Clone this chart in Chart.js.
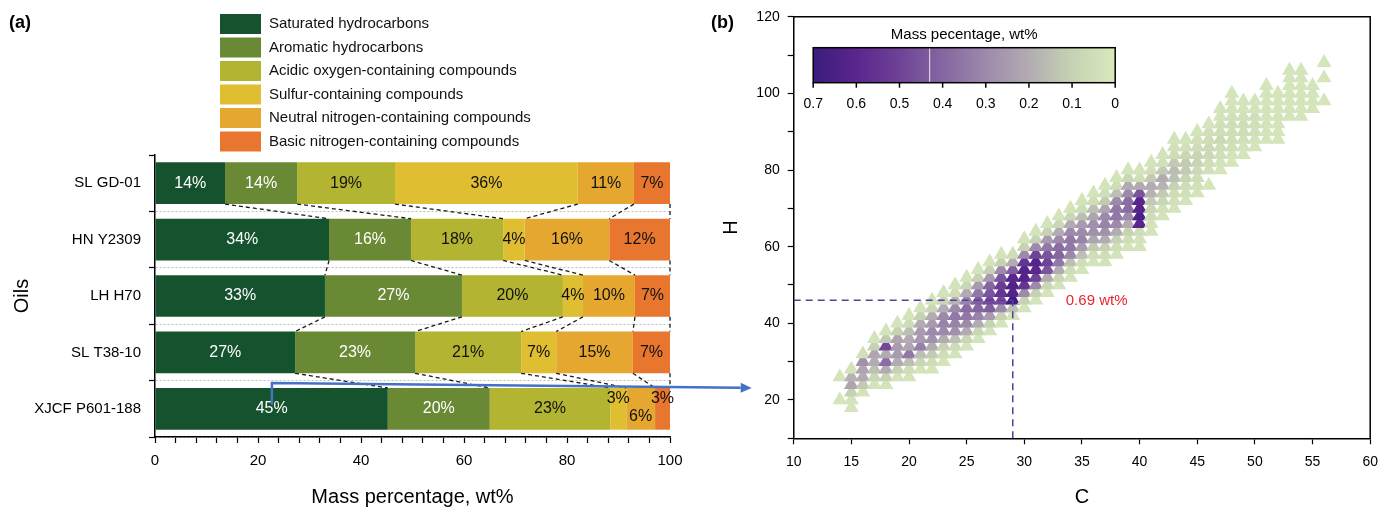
<!DOCTYPE html>
<html><head><meta charset="utf-8">
<script src="https://cdn.jsdelivr.net/npm/chart.js@4.4.1/dist/chart.umd.min.js"></script>
<style>
html,body{margin:0;padding:0;background:#fff;width:1387px;height:509px;overflow:hidden;position:relative;font-family:'Liberation Sans',Arial,sans-serif;}
#ca{position:absolute;left:0;top:0;}
#cb{position:absolute;left:700px;top:0;}
#ov{position:absolute;left:0;top:0;pointer-events:none;}
.pl{position:absolute;font-weight:bold;font-size:18px;color:#000;}
</style></head><body>
<canvas id="ca" width="700" height="509"></canvas>
<canvas id="cb" width="687" height="509"></canvas>
<canvas id="ov" width="1387" height="509"></canvas>
<div class="pl" style="left:9px;top:12px">(a)</div>
<div class="pl" style="left:711px;top:12px">(b)</div>
<script>
// ---------------- Panel (a) data ----------------
const oils = ['SL GD-01','HN Y2309','LH H70','SL T38-10','XJCF P601-188'];
const groupNames = ['Saturated hydrocarbons','Aromatic hydrocarbons','Acidic oxygen-containing compounds','Sulfur-containing compounds','Neutral nitrogen-containing compounds','Basic nitrogen-containing compounds'];
const saturated       = [13.6, 33.8, 33.0, 27.2, 45.2];
const aromatic        = [14.0, 15.9, 26.6, 23.3, 19.8];
const acidicOxygen    = [19.0, 17.9, 19.6, 20.6, 23.4];
const sulfurComp      = [35.5,  4.2,  3.9,  6.8,  3.1];
const neutralNitrogen = [10.9, 16.4, 10.1, 14.9,  5.6];
const basicNitrogen   = [ 7.0, 11.8,  6.8,  7.2,  2.9];
const xLabelTicksA = [0,20,40,60,80,100];

// ---------------- Panel (b) data ----------------
const carbonNumbers = [14,15,16,17,18,19,20,21,22,23,24,25,26,27,28,29,30,31,32,33,34,35,36,37,38,39,40,41,42,43,44,45,46,47,48,49,50,51,52,53,54,55,56];
const hydrogenStart = [20,18,22,24,24,26,26,28,28,30,32,34,36,38,40,42,44,46,48,50,52,54,56,56,58,60,60,64,68,70,72,74,76,80,82,84,86,88,88,94,94,96,98];
// mass percentage (wt%) for H = start, start+2, ... (null = not detected)
const massPercent = [
 [0.02,null,null,0.03],
 [0.02,0.03,0.10,0.22,0.18,0.03],
 [0.03,0.12,0.20,0.22,0.28,0.04],
 [0.03,0.08,0.15,0.20,0.22,0.10,0.03],
 [0.03,0.10,0.20,0.38,0.20,0.48,0.12,0.03],
 [0.03,0.10,0.20,0.25,0.25,0.22,0.10,0.03],
 [0.03,0.05,0.15,0.35,0.22,0.20,0.15,0.06,0.03],
 [0.03,0.08,0.15,0.33,0.25,0.25,0.20,0.10,0.03],
 [0.03,0.05,0.12,0.20,0.28,0.30,0.25,0.20,0.08,0.03],
 [0.03,0.05,0.10,0.20,0.30,0.32,0.30,0.20,0.08,0.03],
 [0.03,0.06,0.15,0.28,0.32,0.35,0.30,0.18,0.06,0.03],
 [0.03,0.08,0.20,0.30,0.35,0.38,0.32,0.20,0.08,0.03],
 [0.03,0.08,0.20,0.32,0.40,0.42,0.35,0.25,0.10,0.03],
 [0.03,0.10,0.25,0.42,0.48,0.45,0.40,0.25,0.10,0.03],
 [0.03,0.10,0.30,0.48,0.55,0.52,0.45,0.30,0.10,0.03],
 [0.03,0.15,0.69,0.62,0.63,0.60,0.42,0.20,0.05],
 [0.03,0.10,0.30,0.55,0.62,0.62,0.55,0.30,0.10,0.03],
 [0.03,0.10,0.30,0.50,0.60,0.62,0.50,0.30,0.10,0.03],
 [0.03,0.08,0.20,0.45,0.50,0.45,0.35,0.25,0.10,0.03],
 [0.03,0.08,0.20,0.35,0.40,0.38,0.30,0.20,0.08,0.03],
 [0.03,0.05,0.15,0.30,0.35,0.35,0.30,0.20,0.08,0.03],
 [0.03,0.05,0.15,0.25,0.32,0.30,0.25,0.15,0.06,0.03],
 [0.03,0.05,0.12,0.22,0.28,0.28,0.22,0.15,0.06,0.03],
 [0.03,0.05,0.10,0.20,0.28,0.32,0.30,0.22,0.12,0.05,0.03],
 [0.03,0.05,0.10,0.20,0.30,0.35,0.35,0.30,0.15,0.06,0.03],
 [0.03,0.05,0.10,0.20,0.30,0.38,0.38,0.30,0.20,0.08,0.03],
 [0.03,0.03,0.05,0.60,0.65,0.62,0.60,0.45,0.20,0.05,0.03],
 [0.03,0.03,0.05,0.08,0.12,0.18,0.20,0.12,0.04,0.03],
 [0.03,0.04,0.08,0.12,0.18,0.20,0.12,0.04,0.03],
 [0.03,0.04,0.06,0.10,0.15,0.16,0.12,0.06,0.04,0.03],
 [0.03,0.04,0.06,0.09,0.12,0.12,0.08,0.04,0.03],
 [0.03,0.04,0.05,0.07,0.09,0.09,0.06,0.04,0.03],
 [0.02,null,0.04,0.05,0.07,0.07,0.05,0.04,0.02],
 [0.02,0.03,0.04,0.05,0.07,0.05,0.04,0.03,0.02],
 [0.02,0.03,0.04,0.05,0.05,0.05,0.04,0.03,0.02,0.02],
 [0.02,0.03,0.04,0.05,0.05,0.04,0.03,0.02],
 [0.02,0.03,0.04,0.04,0.04,0.03,0.02],
 [0.02,0.02,0.03,0.03,0.03,0.02,0.02,0.02],
 [0.02,0.02,0.02,0.03,0.02,0.02,0.02],
 [0.02,0.02,0.02,0.02,0.02,0.02,0.02],
 [0.02,0.02,0.02,0.02,0.02,0.02,0.02],
 [0.02,0.02,0.02,0.02],
 [0.02,null,null,0.02,null,0.02]
];
const colorbarTicks = [0.7,0.6,0.5,0.4,0.3,0.2,0.1,0];
const colorbarMark = 0.43;
const arrowStartValue = 22.7;

// ---------------- styles ----------------
Chart.defaults.font.family = "'Liberation Sans', Arial, Helvetica, sans-serif";
Chart.defaults.color = '#000';
const groupColors = ['#15532e','#6a8935','#b2b432','#e0be32','#e6a731','#e8762e'];
const labelColors = ['#fff','#fff','#111','#111','#111','#111'];
const cmStops = [0,0.1,0.2,0.3,0.4,0.5,0.6,0.7];
const cmColors = [[217,234,189],[198,210,179],[178,172,178],[157,138,171],[133,102,161],[110,66,150],[90,38,142],[58,28,125]];
function cmap(v){
  v = Math.max(0, Math.min(0.7, v));
  for (let i=0;i<cmStops.length-1;i++){
    if (v<=cmStops[i+1]){
      const t=(v-cmStops[i])/(cmStops[i+1]-cmStops[i]);
      const a=cmColors[i], b=cmColors[i+1];
      return 'rgb('+a.map((c,k)=>Math.round(c+(b[k]-c)*t)).join(',')+')';
    }
  }
  return 'rgb('+cmColors[cmColors.length-1].join(',')+')';
}

// ---------------- Panel (a) chart ----------------
const groupData = [saturated, aromatic, acidicOxygen, sulfurComp, neutralNitrogen, basicNitrogen];
const labelShift = {'3-4':-10,'4-4':8,'5-4':-10};

const panelAPlugin = {
  id:'panelA',
  afterDatasetsDraw(chart){
    const ctx = chart.ctx;
    const metas = chart.data.datasets.map((d,i)=>chart.getDatasetMeta(i));
    ctx.save();
    ctx.strokeStyle='#1a1a1a'; ctx.lineWidth=1.3; ctx.setLineDash([4,3]);
    for (let b=0;b<oils.length-1;b++){
      for (let k=0;k<metas.length;k++){
        const e1=metas[k].data[b], e2=metas[k].data[b+1];
        ctx.beginPath();
        ctx.moveTo(e1.x, e1.y+e1.height/2);
        ctx.lineTo(e2.x, e2.y-e2.height/2);
        ctx.stroke();
      }
    }
    ctx.restore();
    ctx.save();
    ctx.font = "16px 'Liberation Sans', Arial, sans-serif";
    ctx.textAlign='center'; ctx.textBaseline='middle';
    metas.forEach((m,k)=>{
      m.data.forEach((e,b)=>{
        const v = chart.data.datasets[k].data[b];
        const dy = labelShift[k+'-'+b] || 0;
        ctx.fillStyle = labelColors[k];
        ctx.fillText(Math.round(v)+'%', (e.x+e.base)/2, e.y+dy);
      });
    });
    ctx.restore();
  },
  afterDraw(chart){
    const ctx = chart.ctx;
    ctx.save();
    ctx.font = "15px 'Liberation Sans', Arial, sans-serif";
    ctx.textBaseline='middle'; ctx.textAlign='left';
    chart.data.datasets.forEach((d,i)=>{
      const top = 14 + i*23.5;
      ctx.fillStyle = d.backgroundColor;
      ctx.fillRect(220, top, 41, 20);
      ctx.fillStyle = '#111';
      ctx.fillText(d.label, 269, top+10);
    });
    ctx.restore();
  }
};

const chartA = new Chart(document.getElementById('ca'), {
  type:'bar',
  data:{ labels: oils, datasets: groupNames.map((n,i)=>({label:n, data:groupData[i], backgroundColor:groupColors[i], borderWidth:0, categoryPercentage:0.74, barPercentage:1})) },
  options:{
    responsive:false, animation:false, indexAxis:'y',
    layout:{padding:{left:0,right:30,top:155,bottom:0}},
    plugins:{legend:{display:false}, tooltip:{enabled:false}},
    scales:{
      x:{stacked:true, min:0, max:100,
         ticks:{stepSize:4, autoSkip:false, maxRotation:0, padding:9, font:{size:15}, color:'#000',
                callback:(v)=> xLabelTicksA.includes(Math.round(v)) && Math.abs(v-Math.round(v))<1e-6 ? String(Math.round(v)) : ''},
         grid:{drawOnChartArea:false, tickLength:6, tickColor:'#000', tickWidth:1.2},
         border:{color:'#000', width:1.5},
         title:{display:true, text:'Mass percentage, wt%', font:{size:20}, color:'#000', padding:{top:0,bottom:0}},
         afterFit(s){ s.height = 72; }},
      y:{stacked:true,
         grid:{offset:true, drawOnChartArea:true, color:(c)=> c.index===0 ? 'rgba(0,0,0,0)' : '#bdbdbd', lineWidth:1, tickColor:'#000', tickLength:6, tickWidth:1.2},
         border:{color:'#000', width:1.5, dash:[2,2]},
         ticks:{font:{size:15}, color:'#000', padding:8},
         title:{display:true, text:'Oils', font:{size:20}, color:'#000', padding:{top:10}},
         afterFit(s){ s.width = 155; }}
    }
  },
  plugins:[panelAPlugin]
});

// ---------------- Panel (b) chart ----------------
const points = [], pointColors = [];
carbonNumbers.forEach((c,i)=>{
  massPercent[i].forEach((v,j)=>{
    if (v===null) return;
    points.push({x:c, y:hydrogenStart[i]+2*j, v:v});
    pointColors.push(cmap(v));
  });
});
const peak = points.reduce((a,p)=> p.v>a.v ? p : a, points[0]);
const xMinB = 10, xMaxB = 60, yMinB = 10, yMaxB = 120;

const panelBPlugin = {
  id:'panelB',
  afterDraw(chart){
    const ctx = chart.ctx, ca = chart.chartArea;
    ctx.save();
    ctx.strokeStyle='#000'; ctx.lineWidth=1.5;
    ctx.beginPath(); ctx.moveTo(ca.left, ca.top); ctx.lineTo(ca.right, ca.top); ctx.lineTo(ca.right, ca.bottom); ctx.stroke();
    // colorbar
    const cb = {left: ca.left+19.5, top: ca.top+31, w:302, h:35};
    const vmax = colorbarTicks[0];
    const g = ctx.createLinearGradient(cb.left,0,cb.left+cb.w,0);
    cmStops.forEach(s=> g.addColorStop((vmax-s)/vmax, cmap(s)));
    ctx.fillStyle = g; ctx.fillRect(cb.left, cb.top, cb.w, cb.h);
    const mx = cb.left + (vmax-colorbarMark)/vmax*cb.w;
    ctx.strokeStyle='rgba(255,255,255,0.85)'; ctx.lineWidth=1;
    ctx.beginPath(); ctx.moveTo(mx, cb.top); ctx.lineTo(mx, cb.top+cb.h); ctx.stroke();
    ctx.strokeStyle='#000'; ctx.lineWidth=1.5; ctx.strokeRect(cb.left, cb.top, cb.w, cb.h);
    ctx.fillStyle='#000';
    ctx.font = "14px 'Liberation Sans', Arial, sans-serif";
    ctx.textAlign='center'; ctx.textBaseline='middle';
    colorbarTicks.forEach(t=>{
      const x = cb.left + (vmax-t)/vmax*cb.w;
      ctx.beginPath(); ctx.moveTo(x, cb.top+cb.h); ctx.lineTo(x, cb.top+cb.h+5); ctx.stroke();
      ctx.fillText(String(t), x, cb.top+cb.h+21);
    });
    ctx.font = "15px 'Liberation Sans', Arial, sans-serif";
    ctx.fillText('Mass pecentage, wt%', cb.left+cb.w/2, cb.top-13);
    // peak label
    const px = chart.scales.x.getPixelForValue(peak.x), py = chart.scales.y.getPixelForValue(peak.y);
    ctx.fillStyle='#e8262b'; ctx.textAlign='left';
    ctx.fillText(peak.v.toFixed(2)+' wt%', px+53, py+1);
    ctx.restore();
  }
};

const chartB = new Chart(document.getElementById('cb'), {
  type:'scatter',
  data:{ datasets:[
    {data:[{x:xMinB,y:peak.y},{x:peak.x,y:peak.y}], showLine:true, borderColor:'#5b3ea0', borderWidth:1.5, borderDash:[7,5], pointRadius:0, fill:false},
    {data:[{x:peak.x,y:yMinB},{x:peak.x,y:peak.y}], showLine:true, borderColor:'#5b3ea0', borderWidth:1.5, borderDash:[7,5], pointRadius:0, fill:false},
    {data:points, pointStyle:'triangle', pointRadius:8.6, pointHoverRadius:8.6, backgroundColor:pointColors, borderWidth:0, borderColor:'rgba(0,0,0,0)'}
  ]},
  options:{
    responsive:false, animation:false,
    layout:{padding:{left:0,right:10,top:16.7,bottom:0}},
    plugins:{legend:{display:false}, tooltip:{enabled:false}},
    scales:{
      x:{type:'linear', min:xMinB, max:xMaxB,
         ticks:{stepSize:5, font:{size:14}, padding:9, color:'#000', maxRotation:0},
         grid:{drawOnChartArea:false, tickLength:6, tickColor:'#000', tickWidth:1.2},
         border:{color:'#000', width:1.5},
         title:{display:true, text:'C', font:{size:20}, color:'#000', padding:{top:0,bottom:0}},
         afterFit(s){ s.height = 70.7; }},
      y:{type:'linear', min:yMinB, max:yMaxB,
         ticks:{stepSize:10, font:{size:14}, padding:8, color:'#000', callback:(v)=> (v%20===0) ? String(v) : ''},
         grid:{drawOnChartArea:false, tickLength:6, tickColor:'#000', tickWidth:1.2},
         border:{color:'#000', width:1.5},
         title:{display:true, text:'H', font:{size:20}, color:'#000', padding:{top:19}},
         afterFit(s){ s.width = 93.7; }}
    }
  },
  plugins:[panelBPlugin]
});

// ---------------- connecting arrow ----------------
(function(){
  const ov = document.getElementById('ov').getContext('2d');
  const bar = chartA.getDatasetMeta(0).data[oils.length-1];
  const sx = chartA.scales.x.getPixelForValue(arrowStartValue);
  const y0 = bar.y - 4;
  const y1 = bar.y - bar.height/2 - 5;
  const ex = 700 + chartB.chartArea.left - 42;
  const ey = y1 + 5;
  ov.strokeStyle='#4472c4'; ov.fillStyle='#4472c4'; ov.lineWidth=2.5; ov.lineJoin='miter';
  const ang = Math.atan2(ey-y1, ex-sx);
  const hl = 11;
  ov.beginPath(); ov.moveTo(sx,y0); ov.lineTo(sx,y1); ov.lineTo(ex-hl*Math.cos(ang), ey-hl*Math.sin(ang)); ov.stroke();
  ov.beginPath();
  ov.moveTo(ex,ey);
  ov.lineTo(ex-hl*Math.cos(ang)+5*Math.sin(ang), ey-hl*Math.sin(ang)-5*Math.cos(ang));
  ov.lineTo(ex-hl*Math.cos(ang)-5*Math.sin(ang), ey-hl*Math.sin(ang)+5*Math.cos(ang));
  ov.closePath(); ov.fill();
})();
</script>
</body></html>
